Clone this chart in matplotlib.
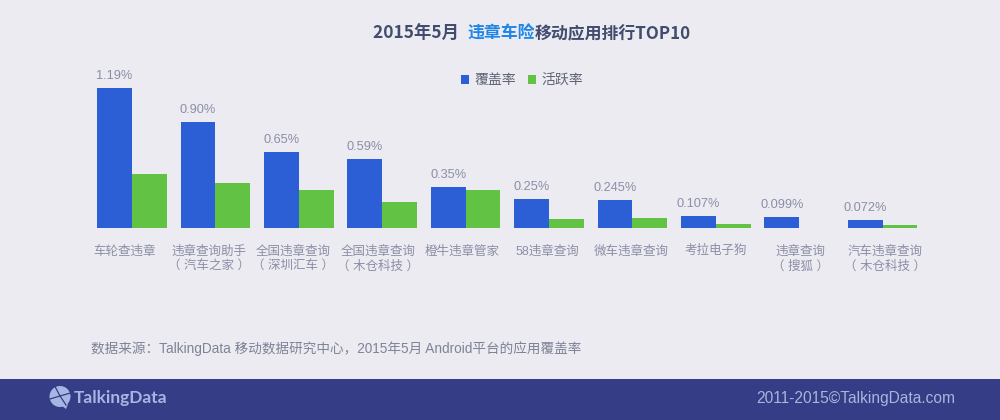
import numpy as np
import matplotlib
matplotlib.use("Agg")
import matplotlib.pyplot as plt
from matplotlib.patches import Rectangle, Circle, Polygon

plt.rcParams['font.family'] = ['Liberation Sans', 'Noto Sans CJK SC', 'DejaVu Sans']

apps = ["车轮查违章", "违章查询助手\n（ 汽车之家 ）", "全国违章查询\n（ 深圳汇车 ）", "全国违章查询\n（ 木仓科技 ）",
        "橙牛违章管家", "58违章查询", "微车违章查询", "考拉电子狗", "违章查询\n（ 搜狐 ）", "汽车违章查询\n（ 木仓科技 ）"]
coverage = [1.19, 0.90, 0.65, 0.59, 0.35, 0.25, 0.245, 0.107, 0.099, 0.072]
coverage_labels = ["1.19%", "0.90%", "0.65%", "0.59%", "0.35%", "0.25%", "0.245%", "0.107%", "0.099%", "0.072%"]
active = [0.459, 0.388, 0.324, 0.225, 0.329, 0.078, 0.092, 0.041, 0.0, 0.030]

BG = "#ecebf1"
BLUE = "#2c5fd6"
GREEN = "#62c244"
GREY = "#8b8fa6"
FOOTER = "#343d85"
LOGO = "#a6b6e4"

fig = plt.figure(figsize=(10, 4.2), dpi=100, facecolor=BG)


def fx(px):
    return px / 1000


def fy(px):
    return 1 - px / 420


# axes placed so one category is 83.4px and 1 unit is 118px
left, right, top, base = 90, 930, 70, 228.5
ax = fig.add_axes([fx(left), fy(base), fx(right - left), (base - top) / 420])
ax.patch.set_alpha(0)
x = np.arange(len(apps))
w = 34.8 / 83.4
ax.bar(x - w / 2, coverage, w, color=BLUE, label="覆盖率")
ax.bar(x + w / 2, active, w, color=GREEN, label="活跃率")
ax.set_xlim((left - 132) / 83.4, (right - 132) / 83.4)
ax.set_ylim(0, (base - top) / 118)

for i, v in enumerate(coverage):
    ax.annotate(coverage_labels[i], (x[i] - w / 2, v), xytext=(0, 6), textcoords="offset pixels",
                ha="center", va="bottom", fontsize=9.2, color=GREY)

# labels drift a bit from the bars in the original
ax.set_xticks(x * 84.6 / 83.4 - 8 / 83.4)
ax.set_xticklabels(apps, fontsize=9, color=GREY, linespacing=1.3, va="top")
ax.tick_params(axis="x", length=0, pad=12)
ax.set_yticks([])
for s in ax.spines.values():
    s.set_visible(False)

ax.legend(loc="upper left", bbox_to_anchor=((461 - left) / (right - left), (base - 73) / (base - top)),
          ncol=2, frameon=False, fontsize=10, handlelength=0.6, handleheight=0.6, handletextpad=0.4,
          columnspacing=0.8, borderpad=0, borderaxespad=0, labelcolor="#5f6377")

# title in three pieces because of the coloured part
t1 = fig.text(fx(373), fy(34), "2015年5月  ", fontsize=12.5, fontweight="bold", color="#414c6e",
              va="center", family=["Noto Sans CJK SC"])
t2 = fig.text(0, 0, "违章车险", fontsize=12.2, fontweight="bold", color="#1f86e8",
              va="center", family=["Noto Sans CJK SC"])
t3 = fig.text(0, 0, "移动应用排行TOP10", fontsize=12.2, fontweight="bold", color="#414c6e",
              va="center", family=["Noto Sans CJK SC"])
fig.canvas.draw()
r = fig.canvas.get_renderer()
t2.set_position((fx(467), fy(34)))
t3.set_position((t2.get_window_extent(r).x1 / 1000, fy(34)))

fig.text(fx(91), fy(349), "数据来源：TalkingData 移动数据研究中心，2015年5月 Android平台的应用覆盖率",
         fontsize=9.8, color="#7f8398", va="center")

# footer band
fig.add_artist(Rectangle((0, 0), 1, 41 / 420, transform=fig.transFigure, color=FOOTER, lw=0))
fig.text(fx(955), fy(399), "2011-2015©TalkingData.com", fontsize=11.2, color="#a9b5dd", ha="right", va="center")
fig.text(fx(74), fy(398), "TalkingData", fontsize=12.5, fontweight="bold", color=LOGO, va="center",
         family=["Lato", "Liberation Sans"])

# logo icon drawn on a pixel-scaled overlay, above the footer band
ov = fig.add_axes([0, 0, 1, 1], facecolor="none", zorder=3)
ov.set_xlim(0, 1000)
ov.set_ylim(420, 0)
ov.axis("off")
ov.add_patch(Circle((60, 396.5), 10.5, color=LOGO, lw=0))
ov.add_patch(Polygon([[61, 405], [68, 404], [66, 409]], color=LOGO, lw=0))
for a, b in [((60, 396), (55, 386.5)), ((60, 396), (70.5, 393)), ((60, 396), (50, 399)), ((60, 396), (66, 405))]:
    ov.plot([a[0], b[0]], [a[1], b[1]], color=FOOTER, lw=0.9)

fig.savefig("out.png", dpi=100, facecolor=BG)
